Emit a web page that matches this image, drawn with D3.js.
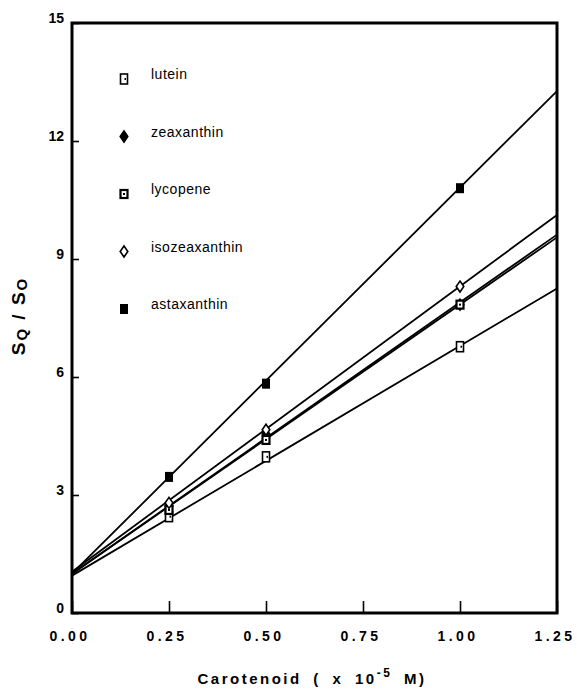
<!DOCTYPE html>
<html lang="en">
<head>
    <meta charset="UTF-8">
    <title>Carotenoid quenching</title>
    <style>
        body {
            margin: 0;
            padding: 0;
            background: #fff;
            font-family: Arial, "Liberation Sans", sans-serif;
        }
        .tick text {
            font-weight: bold;
            font-size: 14px;
            fill: #000;
        }
        .legend text {
            font-size: 14px;
            letter-spacing: 0.5px;
        }
    </style>
</head>
<body>
    <div id="chart"></div>

    <script src="https://d3js.org/d3.v7.min.js"></script>
    <script>
        // measured concentrations (x 10^-5 M)
        const concentrations = [0.25, 0.5, 1.0];

        const lutein        = [2.45, 3.97, 6.77];
        const zeaxanthin    = [2.72, 4.55, 7.84];
        const lycopene      = [2.62, 4.40, 7.84];
        const isozeaxanthin = [2.80, 4.66, 8.30];
        const astaxanthin   = [3.46, 5.83, 10.80];

        // fitted lines, value at x = 0 and at x = 1.25
        const fitX = [0, 1.25];
        const luteinFit        = [0.95, 8.25];
        const zeaxanthinFit    = [1.00, 9.62];
        const lycopeneFit      = [1.00, 9.55];
        const isozeaxanthinFit = [1.05, 10.12];
        const astaxanthinFit   = [1.00, 13.27];

        const xTicks = [0, 0.25, 0.5, 0.75, 1.0, 1.25];
        const yTicks = [0, 3, 6, 9, 12, 15];

        const series = [
            { name: "lutein", values: lutein, fit: luteinFit, symbol: "lutein" },
            { name: "zeaxanthin", values: zeaxanthin, fit: zeaxanthinFit, symbol: "diamondFilled" },
            { name: "lycopene", values: lycopene, fit: lycopeneFit, symbol: "squareDot" },
            { name: "isozeaxanthin", values: isozeaxanthin, fit: isozeaxanthinFit, symbol: "diamondOpen" },
            { name: "astaxanthin", values: astaxanthin, fit: astaxanthinFit, symbol: "squareFilled" }
        ];

        const width = 577, height = 690;
        const margin = { top: 23, right: 20, bottom: 77, left: 72 };

        const svg = d3.select("#chart")
            .append("svg")
            .attr("width", width)
            .attr("height", height);

        const x = d3.scaleLinear()
            .domain([0, 1.25])
            .range([margin.left, width - margin.right]);

        const y = d3.scaleLinear()
            .domain([0, 15])
            .range([height - margin.bottom, margin.top]);

        // fitted lines
        const line = d3.line()
            .x(d => x(d[0]))
            .y(d => y(d[1]));

        svg.selectAll("path.fit")
            .data(series)
            .enter().append("path")
            .attr("class", "fit")
            .attr("d", s => line(fitX.map((v, i) => [v, s.fit[i]])))
            .attr("fill", "none")
            .attr("stroke", "#000")
            .attr("stroke-width", 1.8);

        function drawSymbol(g, type) {
            if (type === "lutein") {
                g.append("rect").attr("x", -3.5).attr("y", -5).attr("width", 7).attr("height", 10)
                    .attr("fill", "#fff").attr("stroke", "#000").attr("stroke-width", 1.6);
                g.append("rect").attr("x", 0.5).attr("y", -1).attr("width", 1.5).attr("height", 2)
                    .attr("fill", "#000");
            } else if (type === "squareDot") {
                g.append("rect").attr("x", -3.5).attr("y", -4).attr("width", 7).attr("height", 8)
                    .attr("fill", "#fff").attr("stroke", "#000").attr("stroke-width", 2.2);
                g.append("rect").attr("x", -1).attr("y", -1).attr("width", 2).attr("height", 2)
                    .attr("fill", "#000");
            } else if (type === "squareFilled") {
                g.append("rect").attr("x", -4).attr("y", -5).attr("width", 8).attr("height", 10)
                    .attr("fill", "#000");
            } else {
                g.append("path").attr("d", "M0,-5.5L3.8,0L0,5.5L-3.8,0Z")
                    .attr("fill", type === "diamondFilled" ? "#000" : "#fff")
                    .attr("stroke", "#000").attr("stroke-width", 1.6);
            }
        }

        // data points
        series.forEach(s => {
            s.values.forEach((v, i) => {
                const g = svg.append("g")
                    .attr("transform", `translate(${x(concentrations[i])},${y(v)})`);
                drawSymbol(g, s.symbol);
            });
        });

        // axes
        const xAxis = svg.append("g")
            .attr("transform", `translate(0,${y(0)})`)
            .call(d3.axisBottom(x)
                .tickValues(xTicks)
                .tickSizeInner(-12)
                .tickSizeOuter(0)
                .tickPadding(18)
                .tickFormat(d3.format(".2f")));
        xAxis.selectAll(".tick line").attr("stroke-width", 1.6);
        xAxis.selectAll(".tick text")
            .style("letter-spacing", "3.5px")
            .attr("dx", "-2.5px");

        const yAxis = svg.append("g")
            .attr("transform", `translate(${x(0)},0)`)
            .call(d3.axisLeft(y)
                .tickValues(yTicks)
                .tickSizeInner(-7)
                .tickSizeOuter(0)
                .tickPadding(8)
                .tickFormat(d3.format("d")));
        yAxis.selectAll(".tick line").attr("stroke-width", 1.6);
        yAxis.selectAll(".tick text").attr("dy", "-0.05em");

        svg.selectAll(".domain").remove();

        // frame
        svg.append("rect")
            .attr("x", x(0))
            .attr("y", y(15))
            .attr("width", x(1.25) - x(0))
            .attr("height", y(0) - y(15))
            .attr("fill", "none")
            .attr("stroke", "#000")
            .attr("stroke-width", 3);

        // legend
        const legend = svg.append("g").attr("class", "legend");
        series.forEach((s, i) => {
            const ly = 79 + i * 57.5;
            const g = legend.append("g").attr("transform", `translate(124,${ly})`);
            drawSymbol(g, s.symbol);
            legend.append("text")
                .attr("x", 151)
                .attr("y", ly)
                .text(s.name);
        });

        // axis titles
        const xt = svg.append("text")
            .attr("x", 312)
            .attr("y", 684)
            .attr("text-anchor", "middle")
            .style("font-weight", "bold")
            .style("font-size", "15px")
            .style("letter-spacing", "2.5px")
            .style("word-spacing", "5px");
        xt.append("tspan").text("Carotenoid  (  x  10");
        xt.append("tspan").attr("dy", -7).style("font-size", "12px").text("-5");
        xt.append("tspan").attr("dy", 7).text(" M)");

        const yt = svg.append("text")
            .attr("transform", `translate(25,316) rotate(-90)`)
            .attr("text-anchor", "middle")
            .style("font-weight", "bold")
            .style("font-size", "19px")
            .style("letter-spacing", "2px");
        yt.append("tspan").text("S");
        yt.append("tspan").style("font-size", "15px").attr("dy", 2).text("Q");
        yt.append("tspan").attr("dy", -2).text(" / S");
        yt.append("tspan").style("font-size", "15px").attr("dy", 2).text("O");
    </script>
</body>
</html>
